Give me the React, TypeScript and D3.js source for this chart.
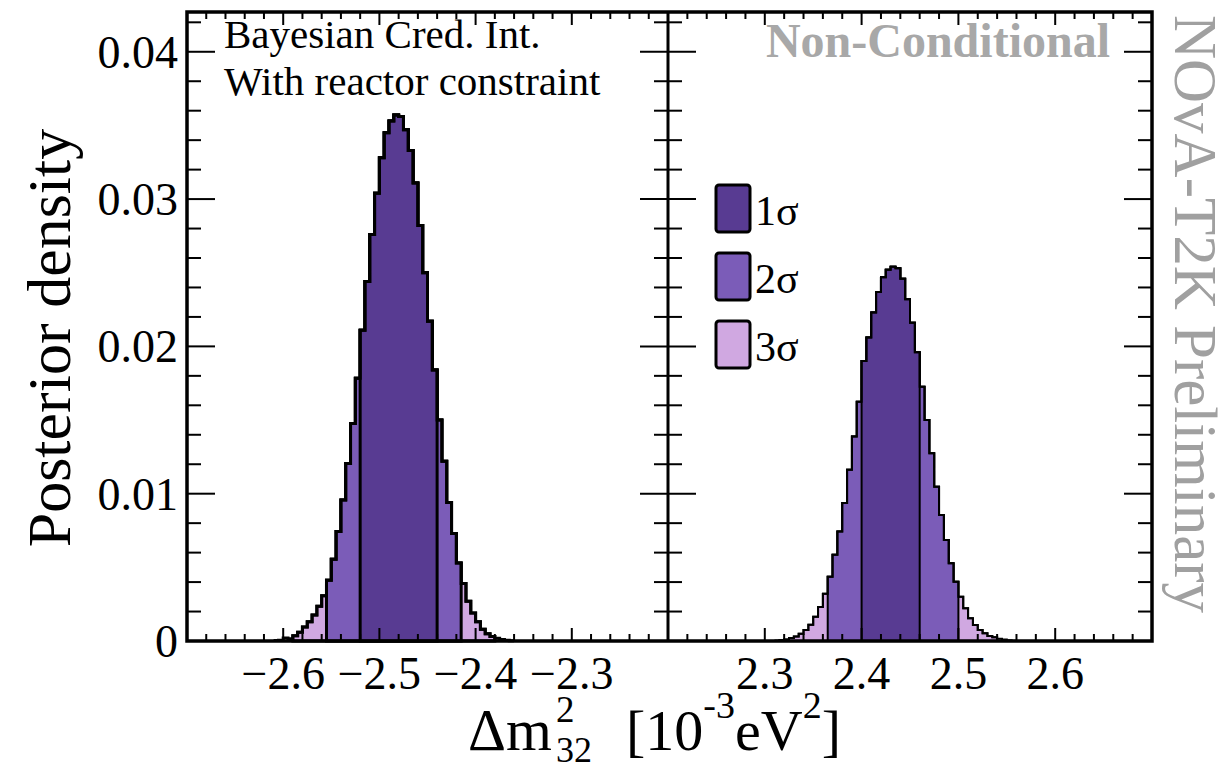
import React from "react";
import * as d3 from "d3";

// posterior density per bin (bin width 0.005), inverted ordering (left) and normal ordering (right)
const binWidth = 0.005;
const ioStart = -2.61;
const ioDensity = [
  0.00003, 0.00005, 0.0002, 0.00015, 0.00035, 0.00059, 0.00095, 0.0013, 0.00177, 0.00236,
  0.00307, 0.00413, 0.00555, 0.00744, 0.00957, 0.01205, 0.01476, 0.01783, 0.0211, 0.0244,
  0.0276, 0.0304, 0.0328, 0.0345, 0.0353, 0.0357, 0.0356, 0.0347, 0.0333, 0.0311,
  0.0282, 0.025, 0.0217, 0.0184, 0.015, 0.0122, 0.0094, 0.0073, 0.0053, 0.0039,
  0.0027, 0.0019, 0.0013, 0.0008, 0.0005, 0.0003, 0.00018, 0.0001, 0.00005, 0.00002,
];
const noStart = 2.31;
const noDensity = [
  0.00004, 0.00007, 0.00012, 0.0002, 0.0003, 0.0005, 0.00075, 0.0011, 0.00165, 0.0023,
  0.0032, 0.00437, 0.00586, 0.00744, 0.00937, 0.01163, 0.01389, 0.01625, 0.019, 0.0206,
  0.0223, 0.0237, 0.0247, 0.0252, 0.0254, 0.0253, 0.0246, 0.0232, 0.0216, 0.0196,
  0.01726, 0.015, 0.01274, 0.01047, 0.00855, 0.00685, 0.00527, 0.00403, 0.00301, 0.00222,
  0.00154, 0.00109, 0.00075, 0.00052, 0.00034, 0.00025, 0.00015, 0.0001, 0.00005, 0.00002,
];

// credible intervals [1 sigma, 2 sigma, 3 sigma]
const ioIntervals = [[-2.52, -2.44], [-2.555, -2.415], [-2.59, -2.38]];
const noIntervals = [[2.4, 2.46], [2.365, 2.5], [2.325, 2.54]];

const sigmaLabels = ["1σ", "2σ", "3σ"];
const sigmaColors = ["#583b92", "#7b5cb8", "#d0a8e1"];

const yTicks = [0, 0.01, 0.02, 0.03, 0.04];
const ioTicks = [-2.6, -2.5, -2.4, -2.3];
const noTicks = [2.3, 2.4, 2.5, 2.6];

const W = 1226, H = 770;
const top = 12, bottom = 641, left = 187, mid = 668, right = 1152;
const serif = "'Liberation Serif', 'Times New Roman', serif";

const y = d3.scaleLinear().domain([0, 0.0427]).range([bottom, top]);
const xIO = d3.scaleLinear().domain([-2.7, -2.2]).range([left, mid]);
const xNO = d3.scaleLinear().domain([2.2, 2.7]).range([mid, right]);

function makeBins(start, vals) {
  return vals.map((v, i) => ({ x0: start + i * binWidth, x1: start + (i + 1) * binWidth, v }));
}

function stepPath(bins, x, closed) {
  const pts = [];
  if (closed) pts.push([x(bins[0].x0), y(0)]);
  bins.forEach((b) => {
    pts.push([x(b.x0), y(b.v)]);
    pts.push([x(b.x1), y(b.v)]);
  });
  if (closed) pts.push([x(bins[bins.length - 1].x1), y(0)]);
  return d3.line()(pts) + (closed ? "Z" : "");
}

function Panel({ x, start, vals, intervals, lw }) {
  const bins = makeBins(start, vals);
  const regions = intervals
    .map((iv, k) => ({
      k,
      bins: bins.filter((b) => b.x0 >= iv[0] - 1e-9 && b.x1 <= iv[1] + 1e-9),
    }))
    .reverse();
  return (
    <g>
      {regions.map((r) => (
        <path
          key={r.k}
          d={stepPath(r.bins, x, true)}
          fill={sigmaColors[r.k]}
          stroke="#000"
          strokeWidth={lw}
        />
      ))}
      <path d={stepPath(bins, x, false)} fill="none" stroke="#000" strokeWidth={lw} />
    </g>
  );
}

function XTicks({ x, ticks }) {
  const [d0, d1] = x.domain();
  const minor = d3.range(Math.round(d0 * 50), Math.round(d1 * 50) + 1).map((i) => i / 50);
  return (
    <g stroke="#000" strokeWidth={2}>
      {minor.map((t, i) => {
        const major = ticks.some((m) => Math.abs(m - t) < 1e-6);
        const len = major ? 13 : 7;
        return (
          <g key={i}>
            <line x1={x(t)} x2={x(t)} y1={bottom} y2={bottom - len} />
            <line x1={x(t)} x2={x(t)} y1={top} y2={top + len} />
          </g>
        );
      })}
    </g>
  );
}

function YTicks() {
  const minor = d3.range(0, 22).map((i) => i * 0.002);
  return (
    <g stroke="#000" strokeWidth={2}>
      {minor.map((t, i) => {
        const major = i % 5 === 0;
        const len = major ? 28 : 14;
        const yy = y(t);
        return (
          <g key={i}>
            <line x1={left} x2={left + len} y1={yy} y2={yy} />
            <line x1={mid - len} x2={mid + len} y1={yy} y2={yy} />
            <line x1={right - len} x2={right} y1={yy} y2={yy} />
          </g>
        );
      })}
    </g>
  );
}

const fmtX = (v) => (v < 0 ? "\u2212" + Math.abs(v).toFixed(1) : v.toFixed(1));

export default function App() {
  return (
    <svg
      width={W}
      height={H}
      style={{ position: "absolute", left: 0, top: 0, background: "#fff", fontFamily: serif }}
    >
      <rect width={W} height={H} fill="#fff" />
      <Panel x={xIO} start={ioStart} vals={ioDensity} intervals={ioIntervals} lw={3} />
      <Panel x={xNO} start={noStart} vals={noDensity} intervals={noIntervals} lw={2} />

      <XTicks x={xIO} ticks={ioTicks} />
      <XTicks x={xNO} ticks={noTicks} />
      <YTicks />
      <rect x={left} y={top} width={right - left} height={bottom - top} fill="none" stroke="#000" strokeWidth={3.5} />
      <line x1={mid} x2={mid} y1={top} y2={bottom} stroke="#000" strokeWidth={3} />

      {yTicks.map((t) => (
        <text key={t} x={178} y={y(t)} dy="0.35em" textAnchor="end" fontSize={46}>
          {t === 0 ? "0" : t.toFixed(2)}
        </text>
      ))}
      {ioTicks.map((t) => (
        <text key={t} x={xIO(t)} y={689} textAnchor="middle" fontSize={46}>
          {fmtX(t)}
        </text>
      ))}
      {noTicks.map((t) => (
        <text key={t} x={xNO(t)} y={689} textAnchor="middle" fontSize={46}>
          {fmtX(t)}
        </text>
      ))}

      <text transform="translate(70,338) rotate(-90)" textAnchor="middle" fontSize={62}>
        Posterior density
      </text>

      <text x={468} y={750} fontSize={59}>Δm</text>
      <text x={556} y={722} fontSize={37}>2</text>
      <text x={556} y={762} fontSize={36}>32</text>
      <text x={626} y={750} fontSize={58}>
        [10<tspan dy={-32} fontSize={38}>-3</tspan>
        <tspan dy={32}>eV</tspan>
        <tspan dy={-32} fontSize={38}>2</tspan>
        <tspan dy={32}>]</tspan>
      </text>

      <text x={224} y={48} fontSize={41}>Bayesian Cred. Int.</text>
      <text x={224} y={95} fontSize={41}>With reactor constraint</text>
      <text x={1110} y={57} textAnchor="end" fontSize={48} fontWeight="bold" fill="#a8a8a8">
        Non-Conditional
      </text>
      <text transform="translate(1175,15) rotate(90)" fontSize={61} fill="#a0a0a0">
        NOvA-T2K Preliminary
      </text>

      {sigmaLabels.map((s, i) => (
        <g key={s}>
          <rect x={716} y={185 + i * 68} width={34} height={47} rx={3} fill={sigmaColors[i]} stroke="#000" strokeWidth={3} />
          <text x={755} y={225 + i * 68} fontSize={42}>{s}</text>
        </g>
      ))}
    </svg>
  );
}
